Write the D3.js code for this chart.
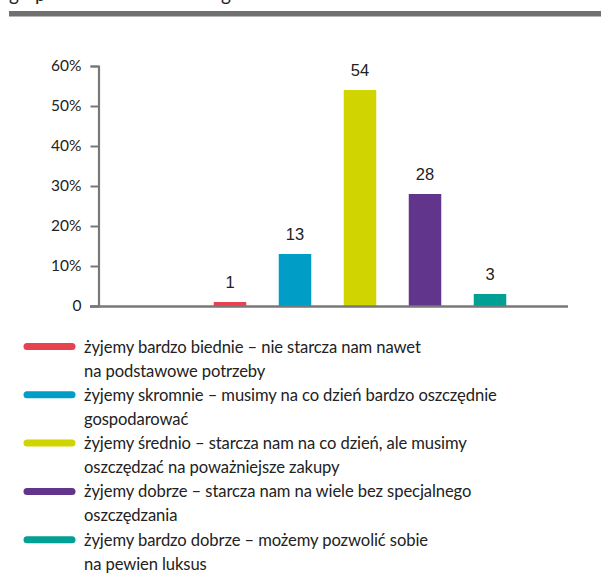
<!DOCTYPE html>
<html>
<head>
<meta charset="utf-8">
<script src="https://cdn.jsdelivr.net/npm/d3@7"></script>
<style>
  body { margin: 0; background: #fff; }
  svg { display: block; }
</style>
</head>
<body>
<svg id="viz"></svg>
<script>
// chart data
const categories = ["bardzo biednie", "skromnie", "średnio", "dobrze", "bardzo dobrze"];
const values = [1, 13, 54, 28, 3];
const colors = ["#e8414f", "#009ec6", "#d0d400", "#61358c", "#00a095"];
const yTicks = [0, 10, 20, 30, 40, 50, 60];
const legendLines = [
  ["żyjemy bardzo biednie – nie starcza nam nawet", "na podstawowe potrzeby"],
  ["żyjemy skromnie – musimy na co dzień bardzo oszczędnie", "gospodarować"],
  ["żyjemy średnio – starcza nam na co dzień, ale musimy", "oszczędzać na poważniejsze zakupy"],
  ["żyjemy dobrze – starcza nam na wiele bez specjalnego", "oszczędzania"],
  ["żyjemy bardzo dobrze – możemy pozwolić sobie", "na pewien luksus"]
];
// descenders of the cut-off heading above the rule
const headingGlyphs = [["g", 9], ["p", 35], ["g", 221]];

const width = 601, height = 581;
const svg = d3.select("#viz").attr("width", width).attr("height", height);

// cut heading + grey rule
svg.append("g").selectAll("text").data(headingGlyphs).join("text")
  .attr("x", d => d[1]).attr("y", 1)
  .attr("font-family", "Lato").attr("font-size", 19).attr("fill", "#222")
  .text(d => d[0]);
svg.append("rect").attr("x", 9).attr("y", 11).attr("width", width - 9).attr("height", 5.5)
  .attr("fill", "#707070");

const y = d3.scaleLinear().domain([0, 60]).range([306, 66]);
const x = d3.scaleBand().domain(categories).range([197.5, 522.5])
  .paddingInner(0.5).paddingOuter(0.25);

const axisColor = "#787878";

// y axis
const yAxis = svg.append("g").attr("transform", "translate(98.5,0)")
  .call(d3.axisLeft(y).tickValues(yTicks).tickSize(8).tickPadding(9)
    .tickFormat(d => d === 0 ? "0" : d + "%"));
yAxis.select(".domain").attr("stroke", axisColor).attr("stroke-width", 2.2);
yAxis.selectAll(".tick line").attr("stroke", axisColor).attr("stroke-width", 2);
yAxis.selectAll(".tick text").attr("font-family", "Lato").attr("font-size", 15.5)
  .attr("fill", "#222");

// bars
svg.append("g").selectAll("rect").data(values).join("rect")
  .attr("x", (d, i) => x(categories[i]))
  .attr("y", d => y(d))
  .attr("width", x.bandwidth())
  .attr("height", d => y(0) - y(d))
  .attr("fill", (d, i) => colors[i]);

// x axis line
svg.append("line").attr("x1", 90).attr("x2", 568).attr("y1", 306.5).attr("y2", 306.5)
  .attr("stroke", axisColor).attr("stroke-width", 2.5);

// value labels
svg.append("g").selectAll("text").data(values).join("text")
  .attr("x", (d, i) => x(categories[i]) + x.bandwidth() / 2)
  .attr("y", d => y(d) - 14)
  .attr("text-anchor", "middle")
  .attr("font-family", "Liberation Sans, Arial").attr("font-size", 16.5)
  .attr("fill", "#222")
  .text(d => d);

// legend
const legend = svg.append("g").selectAll("g").data(legendLines).join("g")
  .attr("transform", (d, i) => `translate(0,${346.5 + i * 48.3})`);
legend.append("line").attr("x1", 27).attr("x2", 72).attr("y1", 0).attr("y2", 0)
  .attr("stroke", (d, i) => colors[i]).attr("stroke-width", 7).attr("stroke-linecap", "round");
legend.each(function (d) {
  d3.select(this).selectAll("text").data(d).join("text")
    .attr("x", 84).attr("y", (t, j) => 6 + j * 24)
    .attr("font-family", "Lato").attr("font-size", 16.6).attr("letter-spacing", -0.1)
    .attr("fill", "#222")
    .text(t => t);
});
</script>
</body>
</html>
